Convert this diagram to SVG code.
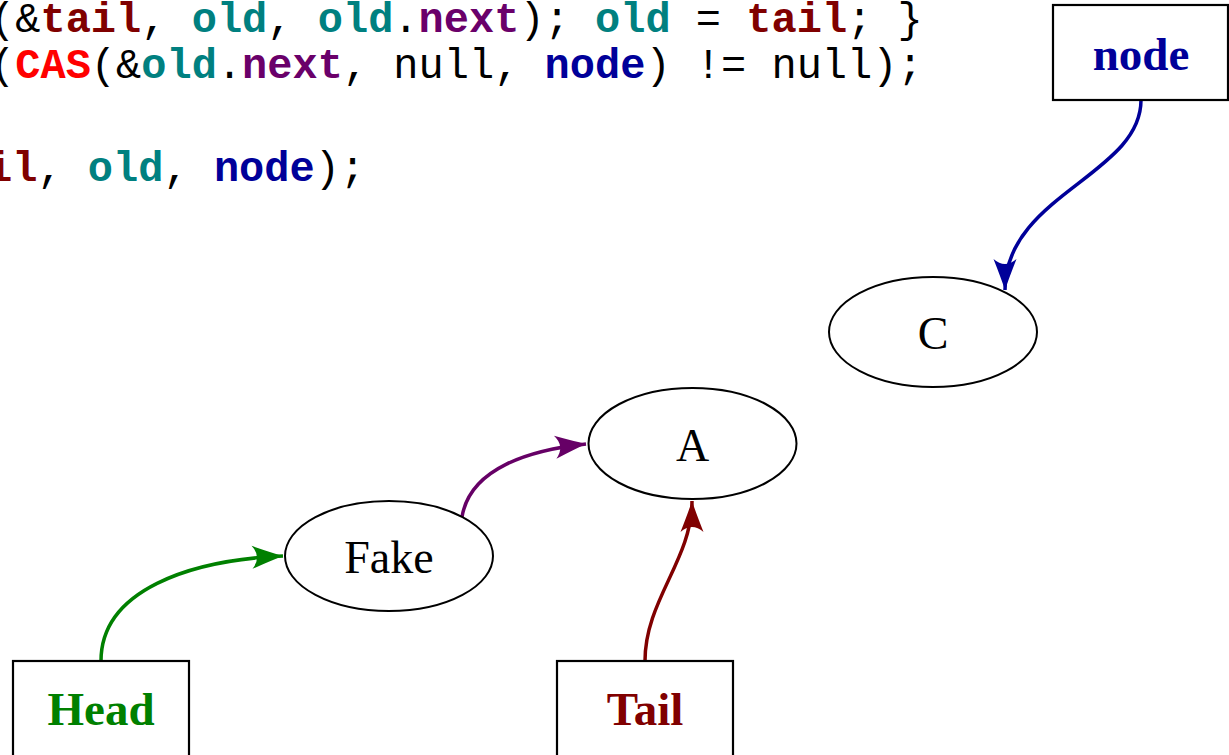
<svg xmlns="http://www.w3.org/2000/svg" width="1229" height="755" viewBox="0 0 1229 755">
<style>
.code{font-family:"Liberation Mono","Courier New",monospace;font-size:42px;fill:#000;}
.b{font-weight:bold;}
.tl{fill:#800000;}
.od{fill:#008080;}
.nx{fill:#6a006a;}
.cas{fill:#ff0000;}
.nd{fill:#000099;}
.box{fill:#fff;stroke:#000;stroke-width:2.2;}
.ell{fill:#fff;stroke:#000;stroke-width:2;}
.lbl{font-family:"Liberation Serif","Times New Roman",serif;font-size:46px;text-anchor:middle;}
.blbl{font-family:"Liberation Serif","Times New Roman",serif;font-size:47px;font-weight:bold;text-anchor:middle;}
.edge{fill:none;stroke-width:3.5;}
</style>
<defs>
<marker id="mG" markerUnits="userSpaceOnUse" markerWidth="36" markerHeight="30" viewBox="-34 -15 36 30" refX="0" refY="0" orient="auto"><path d="M0,0 Q-12,-4 -31,-11.5 Q-21,0 -31,11.5 Q-12,4 0,0 Z" fill="#008000"/></marker>
<marker id="mP" markerUnits="userSpaceOnUse" markerWidth="36" markerHeight="30" viewBox="-34 -15 36 30" refX="0" refY="0" orient="auto"><path d="M0,0 Q-12,-4 -31,-11.5 Q-21,0 -31,11.5 Q-12,4 0,0 Z" fill="#660066"/></marker>
<marker id="mR" markerUnits="userSpaceOnUse" markerWidth="36" markerHeight="30" viewBox="-34 -15 36 30" refX="0" refY="0" orient="auto"><path d="M0,0 Q-12,-4 -31,-11.5 Q-21,0 -31,11.5 Q-12,4 0,0 Z" fill="#800000"/></marker>
<marker id="mB" markerUnits="userSpaceOnUse" markerWidth="36" markerHeight="30" viewBox="-34 -15 36 30" refX="0" refY="0" orient="auto"><path d="M0,0 Q-12,-4 -31,-11.5 Q-21,0 -31,11.5 Q-12,4 0,0 Z" fill="#000099"/></marker>
</defs>
<g id="code">
<text class="code" x="-10" y="32" xml:space="preserve">(&amp;<tspan class="b tl">tail</tspan>, <tspan class="b od">old</tspan>, <tspan class="b od">old</tspan>.<tspan class="b nx">next</tspan>); <tspan class="b od">old</tspan> = <tspan class="b tl">tail</tspan>; }</text>
<text class="code" x="-10" y="78" xml:space="preserve">(<tspan class="b cas">CAS</tspan>(&amp;<tspan class="b od">old</tspan>.<tspan class="b nx">next</tspan>, null, <tspan class="b nd">node</tspan>) != null);</text>
<text class="code" x="-13" y="181" xml:space="preserve"><tspan class="b tl">il</tspan>, <tspan class="b od">old</tspan>, <tspan class="b nd">node</tspan>);</text>
</g>
<g id="connectors">
<path class="edge" stroke="#008000" d="M101,661 C101,590 190,560 283,556" marker-end="url(#mG)"/>
<path class="edge" stroke="#660066" d="M462,517 C470,468 530,450 586,444" marker-end="url(#mP)"/>
<path class="edge" stroke="#800000" d="M645,661 C645,600 692,560 692,501" marker-end="url(#mR)"/>
<path class="edge" stroke="#000099" d="M1141,100 C1141,175 1005,195 1005,290" marker-end="url(#mB)"/>
</g>
<g id="node-fake">
<ellipse class="ell" cx="389" cy="556" rx="104" ry="55"/>
<text class="lbl" x="389" y="573">Fake</text>
</g>
<g id="node-a">
<ellipse class="ell" cx="692.5" cy="443.5" rx="104" ry="55.5"/>
<text class="lbl" x="692.5" y="461">A</text>
</g>
<g id="node-c">
<ellipse class="ell" cx="933" cy="332" rx="104" ry="55"/>
<text class="lbl" x="933" y="349">C</text>
</g>
<g id="node-node">
<rect class="box" x="1053" y="5" width="175" height="95"/>
<text class="blbl" x="1141" y="70" fill="#000099">node</text>
</g>
<g id="node-head">
<rect class="box" x="13" y="661" width="176" height="96"/>
<text class="blbl" x="101" y="725" fill="#008000">Head</text>
</g>
<g id="node-tail">
<rect class="box" x="557" y="661" width="176" height="96"/>
<text class="blbl" x="645" y="725" fill="#800000">Tail</text>
</g>
</svg>
